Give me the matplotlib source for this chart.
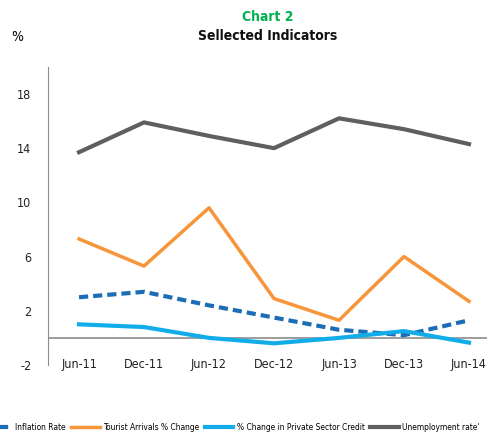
import matplotlib
matplotlib.use('Agg')
import matplotlib.pyplot as plt

plt.rcParams['font.family'] = ['DejaVu Sans']
plt.rcParams['font.stretch'] = 'condensed'
plt.rcParams['axes.unicode_minus'] = False

# Data
periods = ['Jun-11', 'Dec-11', 'Jun-12', 'Dec-12', 'Jun-13', 'Dec-13', 'Jun-14']
inflation = [3.0, 3.4, 2.4, 1.5, 0.6, 0.2, 1.3]
tourist = [7.3, 5.3, 9.6, 2.9, 1.3, 6.0, 2.7]
credit = [1.0, 0.8, 0.0, -0.4, 0.0, 0.5, -0.35]
unemployment = [13.7, 15.9, 14.9, 14.0, 16.2, 15.4, 14.3]
yticks = [-2, 2, 6, 10, 14, 18]

fig = plt.figure(figsize=(4.87, 4.34), dpi=100)
ax = fig.add_axes([0.0986, 0.159, 0.9014, 0.687])
x = list(range(len(periods)))

ax.plot(x, inflation, color='#1c6db5', lw=3, ls=(0, (2.2, 1.2)), label='Inflation Rate')
ax.plot(x, tourist, color='#f7953a', lw=2.5, label='Tourist Arrivals % Change')
ax.plot(x, credit, color='#12ade8', lw=3, label='% Change in Private Sector Credit')
ax.plot(x, unemployment, color='#5f5f5f', lw=3, label="Unemployment rate'")
ax.axhline(0, color='#8c8c8c', lw=1.2, zorder=1)

ax.set_xlim(-0.477, 6.277)
ax.set_ylim(-2, 20)
ax.set_yticks(yticks)
ax.set_xticks(x)
ax.set_xticklabels(periods)
ax.tick_params(axis='both', length=0, labelsize=9, colors='#222222')
ax.tick_params(axis='x', pad=-5)
ax.tick_params(axis='y', pad=12)
for s in ['top', 'right', 'bottom']:
    ax.spines[s].set_visible(False)
ax.spines['left'].set_color('#8c8c8c')

fig.text(0.55, 0.96, 'Chart 2', color='#00b050', fontsize=10, fontweight='bold', ha='center', va='center')
fig.text(0.55, 0.917, 'Sellected Indicators', color='#111111', fontsize=10, fontweight='bold', ha='center', va='center')
fig.text(0.035, 0.915, '%', fontsize=10, ha='center', va='center')

fig.legend(loc='center', bbox_to_anchor=(0.475, 0.015), ncol=4, frameon=False, fontsize=6,
           handlelength=3.4, columnspacing=0.7, handletextpad=0.4)

fig.savefig('out.png', dpi=100)
